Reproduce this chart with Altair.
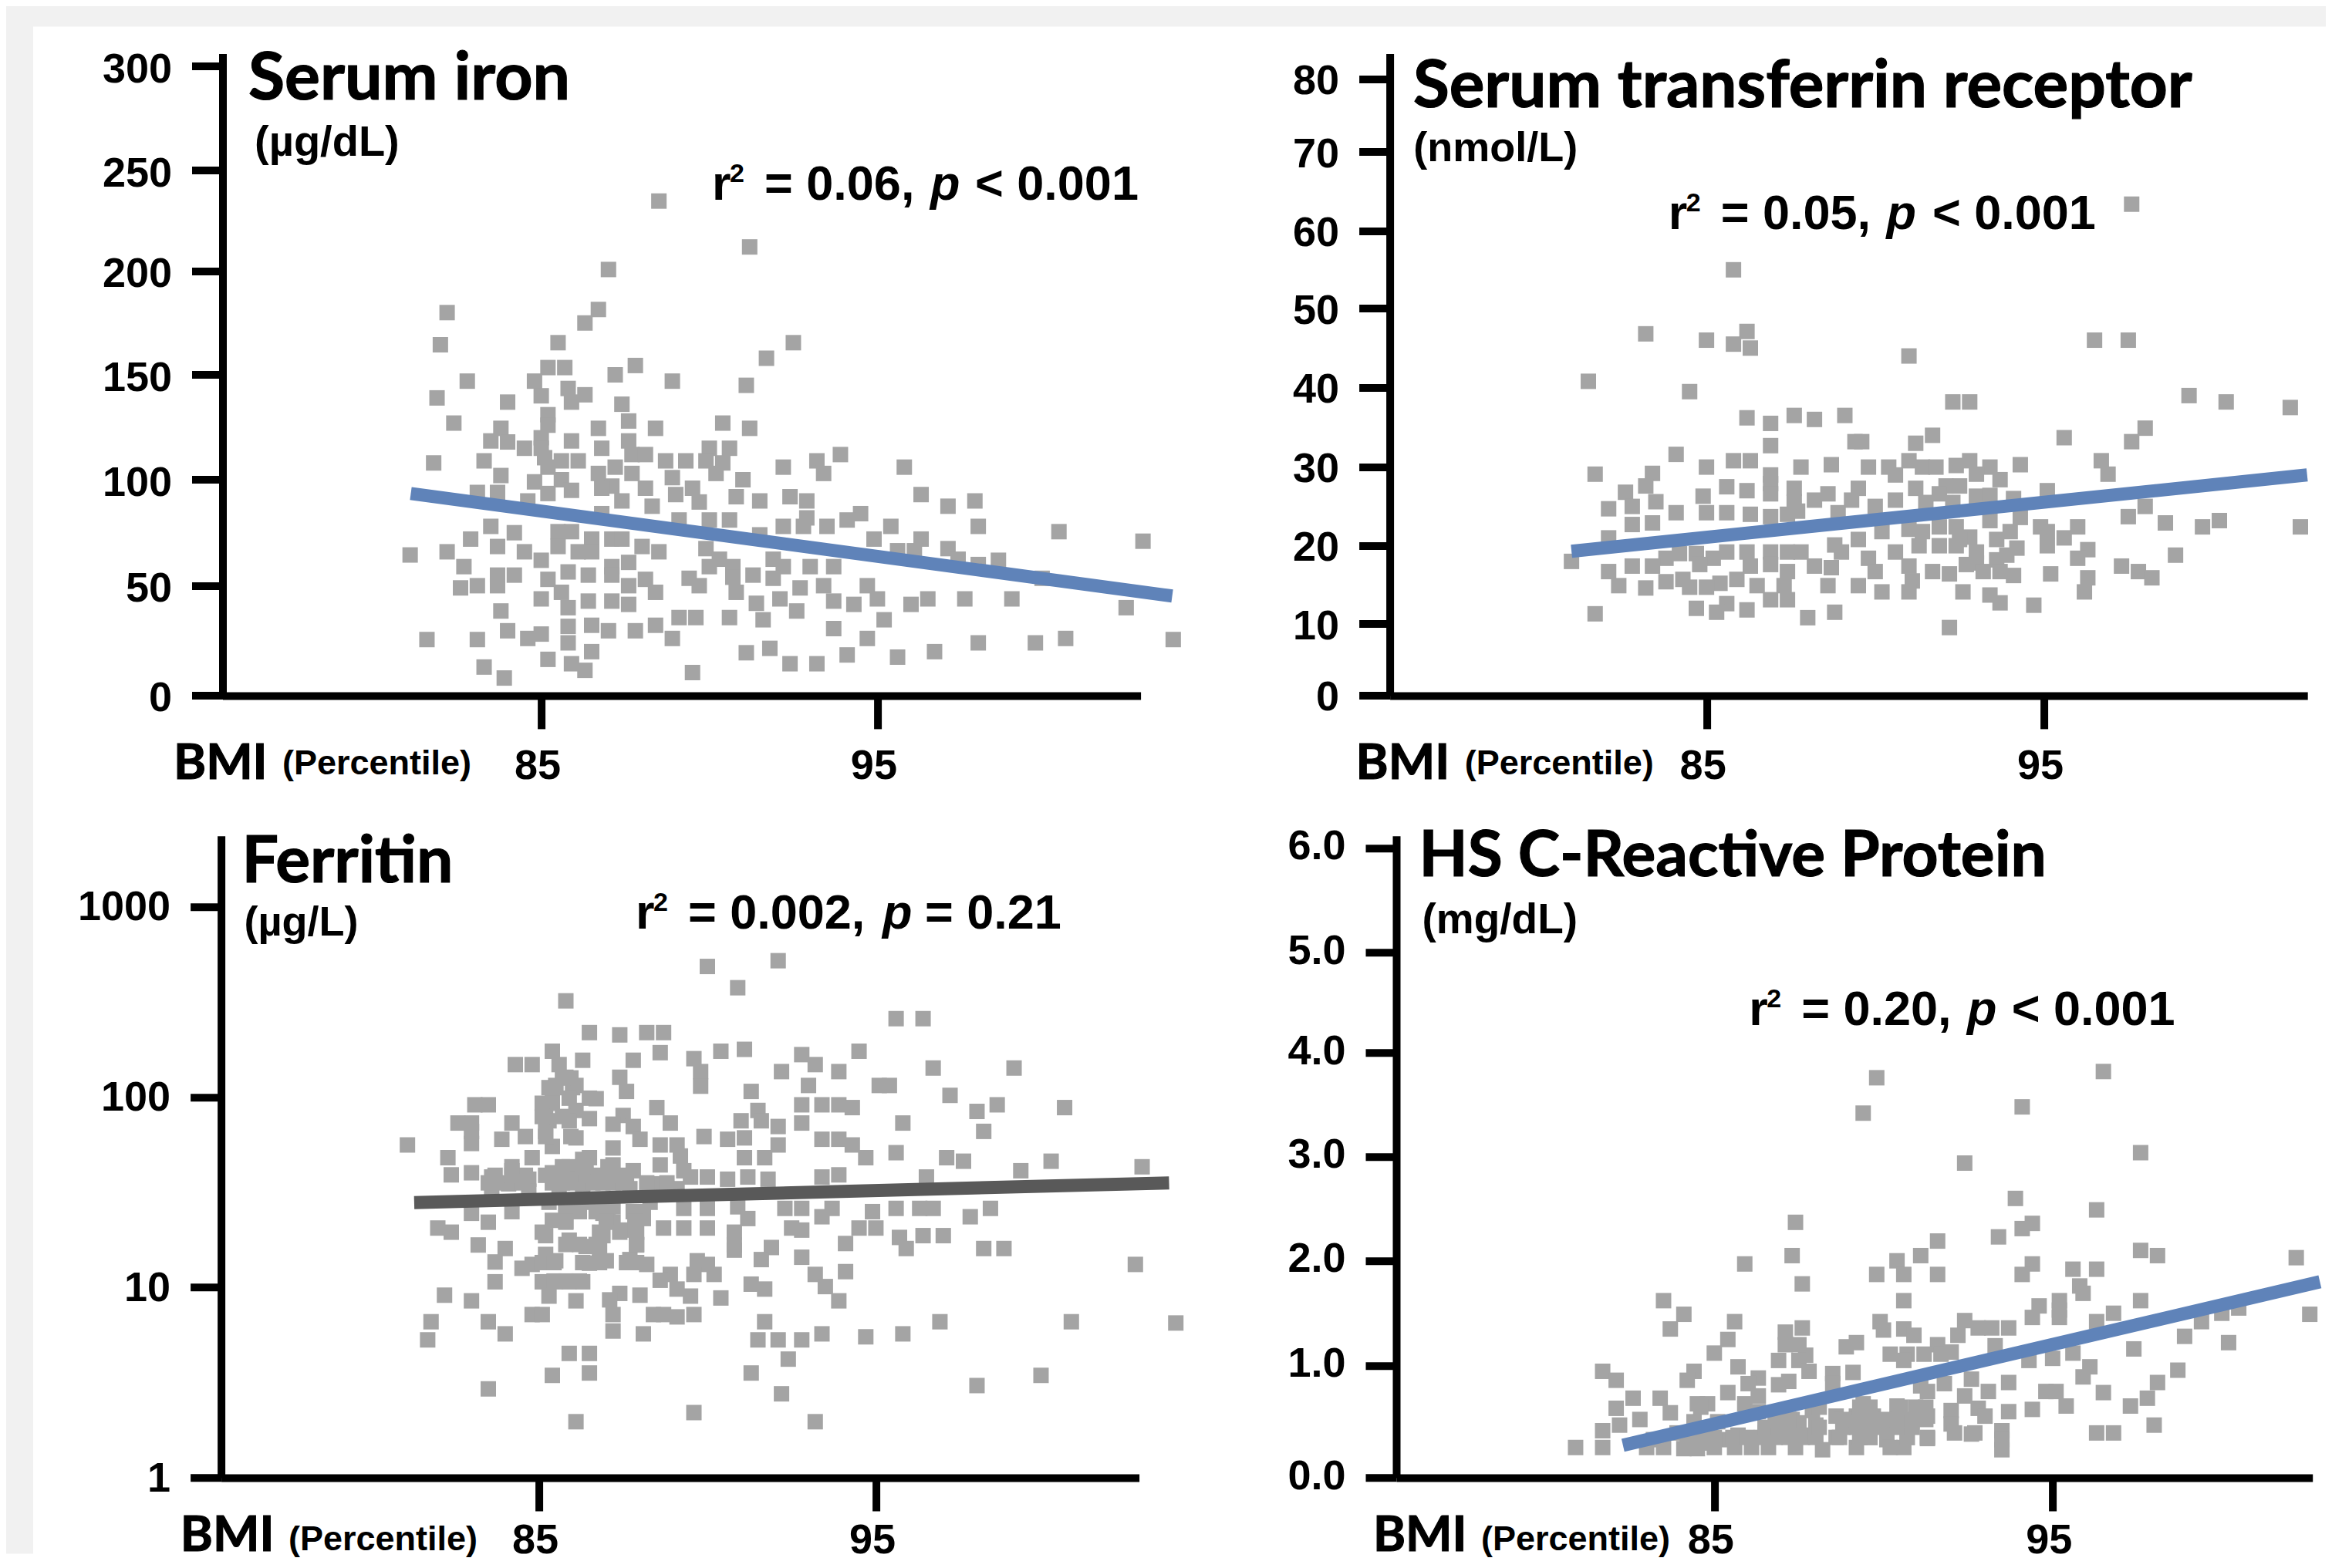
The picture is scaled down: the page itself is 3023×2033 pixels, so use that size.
import altair as alt
import pandas as pd

iron = [(88.5,234.8),(91.2,212),(87.0,200.8),(86.7,181.5),(82.2,180),(86.3,175),(82.0,164.5),(85.5,165.5),(92.5,165.5),(91.7,158),
(85.2,153.5),(85.7,153.5),(87.8,154.5),(87.2,150),(84.8,147),(82.8,147),(88.9,147),(91.1,145),(85.8,143.5),(81.9,139),(85.0,140),
(86.3,140.5),(85.9,137),(84.0,137),(87.4,136),(85.2,131),(82.4,127),(85.2,126),(87.6,128),(86.7,124.5),(88.4,124.5),(90.4,127),
(91.2,124.5),(83.8,124.5),(85.0,120),(83.5,118.5),(84.0,118),(85.9,118.5),(87.6,118.5),(84.5,115),(85.0,115),(86.8,115),(90.0,115),
(90.6,115),(87.7,112),(88.1,112),(93.9,112),(85.1,110.5),(83.3,109),(85.6,109),(86.1,109),(88.7,109),(89.3,109),(89.9,109),(93.2,109),
(81.8,108),(90.4,108),(85.2,106),(87.2,106),(92.2,106),(95.8,106),(93.4,103),(86.7,103),(87.7,103),(90.2,103),(83.8,102),(88.9,101),
(91.0,100),(84.8,99),(85.6,100),(87.1,97),(86.8,96),(88.1,96),(89.5,96),(85.9,95),(83.1,94),(83.7,94),(85.2,93.5),(89.0,93),(96.3,93),
(90.8,92),(92.4,92),(87.4,90),(84.6,90),(89.7,89.5),(91.5,90),(92.9,90),(97.9,90),(97.1,87.5),(88.3,87.5),(94.5,84),(86.8,84),(94.1,81),
(89.1,81),(90.0,81),(90.6,81),(92.9,82),(92.2,78),(92.8,78),(93.5,78),(95.4,78),(98.0,78),(83.5,78),(100.4,75.5),(85.5,75.5),(85.9,75.5),
(84.2,75),(91.5,74),(82.9,72),(86.5,72),(87.1,72),(87.4,72),(94.9,72),(96.3,72),(102.9,71),(88.0,68.5),(83.7,68.5),(85.5,68.5),(89.9,67.5),
(97.1,67.5),(82.2,66),(84.5,66),(88.5,66),(86.1,66),(86.5,66),(95.6,66.5),(96.1,66.5),(81.1,64.5),(97.4,62.5),(85.0,62),(90.3,62.5),
(91.9,62.5),(98.6,62),(87.6,61),(92.2,59),(82.7,59),(87.1,59),(90.0,59),(90.7,59),(93.0,59),(93.7,59),(98.0,60),(85.8,56.5),(84.2,55),
(83.7,55),(86.4,55),(87.1,55),(91.3,55),(90.7,54),(91.9,53.5),(88.1,53),(89.4,53.5),(85.2,53),(99.9,53.5),(94.7,50),(87.6,50),(82.6,49),
(83.1,50),(83.7,50),(89.7,50),(92.7,49),(93.4,50),(88.4,47),(85.6,47),(90.8,47),(85.0,44),(95.0,44),(92.1,44),(96.5,44),(97.6,44),(99.0,44),
(87.1,43),(86.4,43),(93.7,43),(91.4,42),(87.6,41.5),(94.3,41.5),(96.0,41.5),(102.4,40),(85.8,40),(83.8,38.5),(92.6,38.5),(89.1,35.5),
(89.6,35.5),(90.6,35.5),(91.6,34.5),(95.2,34.5),(88.4,32),(86.5,32),(85.8,31.5),(93.7,30.5),(84.0,29.5),(87.0,29.5),(87.8,29.5),(85.0,28),
(84.6,26),(88.9,26),(94.7,26),(81.6,25.5),(83.1,25.5),(103.8,25.5),(100.6,26),(85.8,24),(98.0,24),(99.7,24),(91.8,21.5),(86.5,20),(91.1,19.5),
(96.7,20),(94.1,18.5),(95.6,17.5),(85.2,16.5),(92.4,14.5),(93.2,14.5),(83.3,13),(85.9,14.5),(86.3,11.5),(89.5,10.5),(83.9,8)]
iron_fit = [(81.12,93.5),(103.77,45.3)]

transferrin = [(97.6,63.4),(85.8,55),(86.2,47.1),(83.2,46.8),(85.0,46),(85.8,45.5),(86.3,45),(96.5,46),(97.5,46),(91.0,44),(81.5,40.8),(84.5,39.5),
(99.3,39),(92.3,38.2),(92.8,38.2),(100.4,38.2),(102.3,37.5),(86.2,36.2),(87.6,36.5),(88.2,36),(89.1,36.5),(86.9,35.5),(98.0,34.9),(91.7,34),
(95.6,33.7),(89.4,33.2),(89.6,33.2),(91.2,33),(97.6,33.2),(86.9,32.7),(84.1,31.6),(85.8,30.8),(86.3,30.8),(91.0,30.8),(96.7,30.8),(94.3,30.3),
(88.7,30.3),(92.4,30.2),(92.8,30.8),(85.0,30),(87.8,30),(89.8,30),(90.4,30),(91.4,30),(91.8,30),(93.4,30),(81.7,29.1),(96.9,29.1),(83.4,29.2),
(90.6,29),(86.9,29),(93.0,29.1),(93.7,28.4),(86.9,27.9),(83.2,27.6),(85.6,27.5),(86.2,27),(89.5,27.3),(87.6,27.3),(91.2,27.3),(92.1,27.6),
(92.5,27.6),(95.1,27),(82.6,26.8),(86.9,26.6),(88.6,26.6),(84.9,26.3),(93.0,26.3),(93.4,26.4),(91.9,26.6),(88.2,25.8),(90.6,25.8),(89.3,25.8),
(83.5,25.6),(87.6,25.6),(91.5,25.5),(92.3,25.5),(94.1,26),(82.8,25),(90.0,25),(98.0,25),(82.1,24.7),(88.9,24.2),(84.1,24.2),(85.0,24.2),(85.6,24.2),
(86.3,24),(87.4,24),(87.7,24.4),(97.5,23.7),(86.9,23.7),(94.3,23.6),(93.4,23.2),(98.6,22.9),(83.4,22.9),(82.8,22.7),(100.2,23.2),(99.7,22.4),
(102.6,22.4),(94.9,22.4),(96.0,22.4),(91.9,22.4),(92.4,22.4),(91.0,22.1),(90.2,21.8),(94.0,21.8),(95.1,21.8),(91.4,21.8),(92.8,21.1),(95.6,21),
(89.5,20.8),(92.5,20.8),(82.1,21),(93.6,20.8),(95.1,20),(88.8,20.1),(91.3,20),(91.9,20),(92.4,20),(94.2,19.7),(96.3,19.5),(84.2,19),(84.7,19),
(85.6,19.2),(86.2,19.2),(86.9,19.2),(87.4,19.2),(87.8,19.2),(89.0,19.2),(90.6,19.2),(93.0,19.2),(98.9,18.8),(93.9,18.8),(96.0,18.4),(83.8,18.4),
(85.2,18.4),(89.8,18.4),(93.6,18.2),(81.0,18),(84.8,17.6),(86.9,17.6),(92.7,17.6),(93.0,17.8),(82.8,17.4),(83.4,17.4),(86.3,17.4),(88.2,17.4),
(88.7,17.2),(91.0,17.4),(97.3,17.4),(82.1,16.7),(87.4,16.7),(90.0,16.7),(91.7,16.7),(92.2,16.4),(93.2,16.7),(93.7,16.7),(95.2,16.4),(94.1,16.2),
(97.8,16.7),(98.2,15.9),(96.3,15.9),(85.9,15.7),(83.8,15.4),(84.3,15.7),(91.1,15.5),(85.4,15.2),(82.4,14.9),(84.5,14.7),(85.0,14.7),(86.5,14.9),
(87.3,14.9),(88.6,14.9),(89.5,14.9),(83.2,14.6),(90.2,14.1),(91.0,14.1),(92.6,14.1),(96.2,14.1),(93.4,13.7),(86.9,13.1),(87.4,13.1),(93.7,12.7),
(85.6,12.6),(94.7,12.4),(84.7,12),(86.2,11.8),(85.3,11.5),(88.8,11.5),(81.7,11.3),(88.0,10.8),(92.2,9.5)]
transferrin_fit = [(81.0,19.3),(102.8,29)]

ferritin = [(92.1,520),(90.0,485),(90.9,375),(85.8,320),(95.6,258),(96.4,258),(86.5,218),(87.4,212),(88.2,218),(88.7,218),(91.1,178),(90.4,174),
(88.6,171),(94.5,174),(85.4,174),(92.8,167),(86.3,156),(87.8,156),(89.6,159),(84.3,148),(84.8,148),(93.2,148),(85.6,148),(96.7,142),(99.1,142),
(89.8,136),(92.2,136),(93.9,136),(87.4,127),(85.8,127),(89.8,114),(93.0,115),(95.1,115),(95.4,115),(85.5,115),(86.1,115),(91.3,107),(87.6,107),
(97.2,102),(86.7,98),(85.4,98),(83.1,91),(83.5,91),(92.8,91),(93.4,91),(93.9,91),(94.3,88),(98.6,91),(100.6,88),(88.5,88),(85.2,87),(86.1,85),
(91.5,85),(98.0,84),(86.5,77),(87.5,80),(85.3,75),(91.0,75),(82.6,73),(83.0,73),(84.2,73),(92.8,73),(95.8,73),(87.2,72),(88.9,73),(87.8,70),
(92.1,70),(85.9,75),(91.6,75),(83.0,66),(98.2,66),(85.2,66),(84.6,62),(83.9,60),(86.1,61),(89.9,62),(88.0,60),(90.6,60),(93.4,60),(93.9,60),
(91.1,61),(83.0,57),(88.6,56),(89.1,56),(94.3,56),(81.1,56),(92.1,56),(87.2,54),(85.4,55),(95.6,51),(82.3,48),(84.8,48),(86.5,48),(89.2,49),
(91.1,48),(91.7,48),(94.7,48),(97.1,48),(97.6,46),(100.2,46),(87.2,44),(88.6,44),(102.9,43),(85.9,43),(87.8,41),(86.4,41),(89.3,41),(99.3,41),
(84.2,41),(82.4,39),(83.0,40),(85.4,40),(83.6,38),(89.5,38),(90.0,38),(91.2,38),(93.9,39),(93.4,38),(96.5,38),(84.7,37),(86.1,37),(86.7,37),
(87.4,38),(91.8,37),(90.6,37),(88.5,35),(84.1,35),(85.6,34),(83.6,32),(84.7,32),(86.3,33),(87.7,33),(89.1,33),(85.3,28),(86.5,28),(87.2,26.5),
(88.3,28),(89.3,26),(90.0,26),(90.9,26.5),(92.3,26),(92.8,26),(93.7,26),(94.9,25),(95.6,26),(96.3,26),(96.7,26),(98.4,26),(83.0,24.5),(84.2,25),
(85.8,25),(86.9,24.5),(87.9,24.5),(93.4,23.5),(97.8,23.5),(91.2,23),(85.4,22.5),(83.5,22),(85.8,22),(88.1,23),(87.2,22),(82.0,20.5),(82.4,19.5),
(88.7,20.5),(89.3,20.5),(90.0,20.5),(92.5,20.5),(92.8,20),(94.5,20.5),(95.0,20.5),(90.8,19.5),(87.6,20),(85.2,18.7),(86.9,18.7),(95.7,18.3),
(96.4,18.7),(97.0,18.7),(85.9,17.7),(83.2,16.7),(94.1,17),(90.8,16.7),(91.9,16.2),(95.9,16),(98.2,16),(98.8,16),(84.0,16),(86.4,16.4),(87.9,16.7),
(86.8,16),(90.8,15.7),(85.2,14.9),(87.7,14),(92.8,14.4),(91.6,14),(83.7,13.6),(85.5,13.8),(87.0,13.8),(86.5,13.4),(89.7,13.8),(88.2,13.2),(102.7,13.2),
(84.5,12.6),(84.8,13.2),(90.0,13.2),(89.6,11.7),(94.1,12.1),(90.2,11.7),(93.2,11.7),(88.9,11.7),(88.6,10.9),(83.7,10.7),(86.3,10.7),(85.5,10.7),
(85.9,10.7),(85.1,10.7),(91.3,10.4),(93.5,10.1),(89.1,9.8),(91.7,9.8),(87.4,9.3),(88.0,9.1),(82.2,9.1),(85.3,9),(89.5,9),(90.4,8.8),(87.1,8.6),
(83.0,8.5),(86.1,8.5),(93.9,8.5),(84.8,7.2),(85.1,7.2),(87.2,7.2),(88.4,7.2),(88.7,7.2),(89.1,7),(89.6,7.2),(81.8,6.6),(83.5,6.6),(91.7,6.6),
(96.9,6.6),(100.8,6.6),(103.9,6.5),(87.2,5.9),(84.0,5.7),(88.1,5.7),(93.4,5.7),(94.7,5.5),(95.8,5.7),(81.7,5.3),(91.5,5.3),(92.1,5.3),(92.8,5.3),
(85.9,4.5),(86.5,4.5),(92.4,4.2),(85.4,3.45),(86.5,3.55),(91.3,3.55),(99.9,3.45),(83.5,2.93),(98.0,3.05),(92.2,2.76),(89.6,2.2),(86.1,1.97),(93.2,1.97)]
ferritin_dense = [(83.5,35.4),(83.7,35.4),(84.1,35.4),(84.5,35.4),(85.4,35.4),(85.7,35.4),(86.0,35.4),(86.3,35.4),(86.6,35.4),(86.9,35.4),(87.2,35.4),
(87.5,35.4),(88.2,35.4),(88.8,35.4),(83.7,38.8),(84.2,38.8),(84.6,38.8),(85.2,38.8),(85.7,38.8),(86.4,38.8),(86.8,38.8),(87.05,38.8),(87.6,38.8),
(84.2,43),(85.7,43),(86.3,43),(87.05,43),(86.3,47),(85.8,25),(86.2,25),(86.7,25),(87.05,25),(87.8,25),(88.1,25),(85.8,22.2),(87.0,22.2),(87.85,22.2),
(85.1,19.5),(86.8,19.5),(87.4,19.5),(87.9,19.5),(85.8,16.8),(86.2,16.8),(86.7,16.8),(87.9,16.8),(86.3,13.5),(86.8,13.5),(87.6,13.5),(87.9,13.5),
(85.1,13.5),(85.45,13.5),(85.45,10.8),(85.8,10.8),(86.2,10.8),(85.1,92.7),(85.4,92.7),(85.1,79),(85.7,79),(85.3,112),(85.5,112),(86.0,112),
(85.9,98.6),(86.5,98.6),(85.7,126),(85.95,126),(85.2,62),(85.95,62)]
ferritin_fit = [(81.3,27.9),(103.7,35.4)]

crp = [(96.5,3.82),(89.8,3.76),(89.4,3.42),(94.1,3.48),(97.6,3.04),(92.4,2.94),(93.9,2.6),(96.3,2.49),(87.4,2.37),(94.4,2.36),(94.1,2.31),(93.4,2.23),
(91.6,2.19),(91.1,2.05),(87.3,2.05),(97.6,2.1),(98.1,2.05),(102.2,2.03),(90.4,2.0),(85.9,1.97),(94.4,1.97),(95.6,1.92),(96.3,1.92),(89.8,1.87),
(91.6,1.87),(90.6,1.87),(94.1,1.87),(87.6,1.78),(95.8,1.76),(95.9,1.69),(95.2,1.62),(97.6,1.62),(83.5,1.62),(90.6,1.62),(94.6,1.57),(95.2,1.53),
(96.8,1.5),(84.1,1.49),(102.6,1.49),(94.4,1.46),(95.2,1.46),(100.5,1.55),(100.0,1.5),(99.4,1.42),(85.6,1.42),(89.9,1.42),(96.3,1.42),(92.4,1.43),
(90.0,1.34),(92.8,1.36),(93.2,1.36),(93.7,1.36),(87.6,1.36),(83.7,1.35),(90.6,1.35),(87.1,1.32),(98.9,1.28),(90.9,1.29),(92.2,1.29),(85.4,1.25),
(89.2,1.22),(100.2,1.22),(87.1,1.2),(88.9,1.18),(87.5,1.2),(91.6,1.2),(93.3,1.19),(97.4,1.16),(85.0,1.12),(87.7,1.1),(90.2,1.11),(90.7,1.11),
(91.2,1.11),(91.7,1.11),(92.0,1.13),(95.6,1.12),(95.0,1.07),(94.3,1.05),(86.9,1.05),(87.5,1.05),(90.6,1.05),(85.7,0.99),(96.1,0.99),(81.7,0.95),
(98.7,0.96),(84.4,0.95),(87.8,0.95),(88.5,0.93),(89.1,0.94),(95.9,0.9),(82.1,0.87),(84.2,0.87),(86.3,0.89),(92.6,0.88),(93.7,0.85),(98.1,0.85),
(86.0,0.84),(86.9,0.83),(87.2,0.86),(88.5,0.84),(91.8,0.84),(91.1,0.82),(85.4,0.76),(93.1,0.77),(91.3,0.77),(94.8,0.77),(95.1,0.77),(96.5,0.76),
(86.3,0.73),(82.6,0.71),(83.4,0.71),(97.8,0.71),(92.4,0.73),(89.4,0.66),(84.5,0.66),(84.8,0.66),(85.9,0.66),(82.1,0.62),(97.3,0.64),(95.4,0.64),
(94.4,0.61),(92.8,0.62),(90.4,0.64),(91.0,0.62),(92.0,0.6),(83.7,0.58),(93.7,0.59),(86.3,0.59),(87.9,0.6),(88.6,0.55),(89.2,0.55),(89.7,0.55),
(91.3,0.55),(82.8,0.52),(93.0,0.55),(87.3,0.52),(84.4,0.5),(85.1,0.5),(92.0,0.48),(87.5,0.49),(88.0,0.47),(90.3,0.51),(90.8,0.51),(98.0,0.47),
(82.2,0.47),(81.7,0.42),(93.5,0.42),(83.9,0.4),(92.6,0.39),(96.3,0.4),(96.8,0.4),(85.7,0.38),(86.5,0.4),(86.9,0.38),(87.8,0.38),(88.6,0.36),
(89.3,0.36),(89.6,0.36),(91.3,0.35),(90.7,0.36),(90.1,0.34),(85.2,0.34),(93.5,0.34),(83.2,0.34),(84.8,0.31),(81.7,0.27),(80.9,0.27),(83.0,0.27),
(83.5,0.27),(84.1,0.26),(84.5,0.26),(85.0,0.27),(85.6,0.27),(86.1,0.27),(86.6,0.27),(87.4,0.27),(88.2,0.25),(89.2,0.27),(90.2,0.27),(90.6,0.27),(93.5,0.25)]
crp_dense = [(84.2,0.36),(84.6,0.36),(85.0,0.36),(85.55,0.36),(85.96,0.36),(86.4,0.36),(86.8,0.36),(87.2,0.36),(87.6,0.36),(88.0,0.36),(88.7,0.36),
(89.3,0.36),(89.6,0.36),(90.7,0.36),(91.3,0.36),(86.5,0.45),(86.9,0.45),(87.3,0.45),(88.1,0.45),(88.8,0.45),(89.2,0.45),(89.6,0.45),(90.0,0.45),
(90.4,0.45),(90.85,0.45),(92.1,0.4),(92.7,0.4),(86.8,0.52),(87.2,0.52),(88.8,0.52),(89.2,0.52),(89.6,0.52),(90.0,0.52),(90.4,0.52),(90.85,0.52),
(91.25,0.52),(84.6,0.63),(88.1,0.63),(89.3,0.63),(89.6,0.63),(90.5,0.63),(90.95,0.63),(91.25,0.63)]
crp_fit = [(82.3,0.29),(102.9,1.8)]

GREY = "#a4a4a4"; BLUE = "#5f83b9"; DARK = "#595959"; STRIP = "#f1f1f1"
SANS = "Liberation Sans"; TITLE = "Lato"
CELL_W, CELL_H = 1196.1, 832.3
ORIGIN_X, ORIGIN_Y = 278.6, 61.6
CANVAS_W, CANVAS_H = 3007, 2016


def frame(rows):
    return pd.DataFrame(rows, columns=["p", "v"])


def txt(t, x, y, size, font=SANS, style="normal", stroke=0):
    kw = {"stroke": "black", "strokeWidth": stroke} if stroke else {}
    return alt.Chart(alt.Data(values=[{}])).mark_text(
        align="left", baseline="alphabetic", font=font, fontSize=size,
        fontWeight="bold", fontStyle=style, color="black", **kw,
    ).encode(x=alt.value(x), y=alt.value(y), text=alt.value(t))


def band(x, x2, y, y2):
    return alt.Chart(alt.Data(values=[{}])).mark_rect(color=STRIP, opacity=1).encode(
        x=alt.value(x), x2=alt.value(x2), y=alt.value(y), y2=alt.value(y2))


def panel(points, fit, line_color, xdom, xrange, yscale, yticks, yfmt, texts, xpad, yoff, under=()):
    xs = alt.Scale(domain=xdom, range=xrange, nice=False, zero=False)
    x = alt.X("p:Q", scale=xs, title=None, axis=alt.Axis(
        values=[85, 95], format="d", grid=False, tickSize=43, tickWidth=10, domainWidth=10,
        domainColor="black", tickColor="black", labelColor="black", labelFont=SANS,
        labelFontWeight="bold", labelFontSize=54, labelPadding=xpad, labelOffset=-5, labelOverlap=False))
    y = alt.Y("v:Q", scale=yscale, title=None, axis=alt.Axis(
        values=yticks, format=yfmt, grid=False, tickSize=40, tickWidth=10, domainWidth=10,
        offset=-xrange[0], domainColor="black", tickColor="black", labelColor="black",
        labelFont=SANS, labelFontWeight="bold", labelFontSize=54, labelPadding=26,
        labelOffset=yoff, labelOverlap=False))
    pts = alt.Chart(frame(points)).mark_square(size=400, color=GREY, opacity=1, filled=True).encode(x=x, y=y)
    line = alt.Chart(frame(fit)).mark_line(color=line_color, strokeWidth=17).encode(x=x, y=y)
    return alt.layer(*under, pts, line, *texts).properties(width=CELL_W, height=CELL_H)


def labels(title, tsize, tx, ty, unit, usize, ux, uy, eq, sx, sy, p_x, stat_b, bx, bmi_x, bmi_y, pc_x, pc_y):
    return [
        txt(title, tx, ty, tsize, TITLE, stroke=1.2),
        txt(unit, ux, uy, usize),
        txt("r", sx, sy, 63),
        txt("2", sx + 23, sy - 23, 34),
        txt(eq, sx + 68, sy, 63),
        txt("p", p_x, sy, 63, style="italic"),
        txt(stat_b, bx, sy, 63),
        txt("BMI", bmi_x, bmi_y, 64, TITLE, stroke=1.2),
        txt("(Percentile)", pc_x, pc_y, 45),
    ]


p1 = panel(
    iron, iron_fit, BLUE, [75.52, 102.83], [1.9, 1192],
    alt.Scale(domain=[0, 50, 100, 150, 200, 250, 300, 306],
              range=[832.3, 689.8, 552.4, 416.4, 281.9, 151.4, 16.4, 0], zero=False, nice=False),
    [0, 50, 100, 150, 200, 250, 300], "d",
    labels("Serum iron", 86, 35.4, 59.4, "(µg/dL)", 56, 43.4, 132.4, "= 0.06,", 636.4, 189.1, 919.4,
           "< 0.001", 977.4, -61.6, 939.9, 79.4, 933.9),
    22, 4,
    under=[band(-278.6, 2728.4, -61.6, -35.1), band(-278.6, -243.6, -61.6, 1945)],
)
p2 = panel(
    transferrin, transferrin_fit, BLUE, [75.615, 102.81], [0, 1189.6],
    alt.Scale(domain=[0, 10, 20, 30, 40, 50, 60, 70, 80, 83.3],
              range=[832.3, 739.4, 638, 536, 433, 330.4, 230, 127.4, 33, 0], zero=False, nice=False),
    [0, 10, 20, 30, 40, 50, 60, 70, 80], "d",
    labels("Serum transferrin receptor", 85.5, 30.3, 69.4, "(nmol/L)", 54, 30.7, 139.4, "= 0.05,", 361.1, 226.9, 643.8,
           "< 0.001", 703.3, -44, 939.9, 97.1, 933.9),
    22, 3,
)
p3 = panel(
    ferritin + ferritin_dense, ferritin_fit, DARK, [75.57, 102.81], [0, 1190],
    alt.Scale(type="log", domain=[1, 2355], range=[832.3, 0], nice=False),
    [1, 10, 100, 1000], "d",
    labels("Ferritin", 84, 26.8, 60.3, "(µg/L)", 54, 29.8, 129, "= 0.002,", 537.3, 120.4, 857.4,
           "= 0.21", 912.4, -52.8, 927.5, 87.4, 926),
    11, 1,
)
p4 = panel(
    crp + crp_dense, crp_fit, BLUE, [75.6, 102.68], [8.4, 1196.1],
    alt.Scale(domain=[0, 1, 2, 3, 4, 5, 6, 6.1],
              range=[832.3, 687, 551, 416.2, 281.3, 151.4, 15.9, 0], zero=False, nice=False),
    [0, 1, 2, 3, 4, 5, 6], ".1f",
    labels("HS C-Reactive Protein", 82, 38, 52, "(mg/dL)", 55, 41.9, 126.7, "= 0.20,", 465.6, 245, 748.3,
           "< 0.001", 806.1, -21.7, 927.5, 118.3, 926),
    11, -2,
)

chart = alt.concat(
    p1, p2, p3, p4, columns=2, spacing={"row": 181.1, "column": 318}, bounds="flush", align="all"
).properties(
    autosize=alt.AutoSizeParams(type="none"),
    padding={"left": ORIGIN_X, "top": ORIGIN_Y, "right": CANVAS_W - ORIGIN_X, "bottom": CANVAS_H - ORIGIN_Y},
    background="white",
).configure_view(stroke=None)

chart.save("out.html", embed_options={"renderer": "svg", "actions": False})
